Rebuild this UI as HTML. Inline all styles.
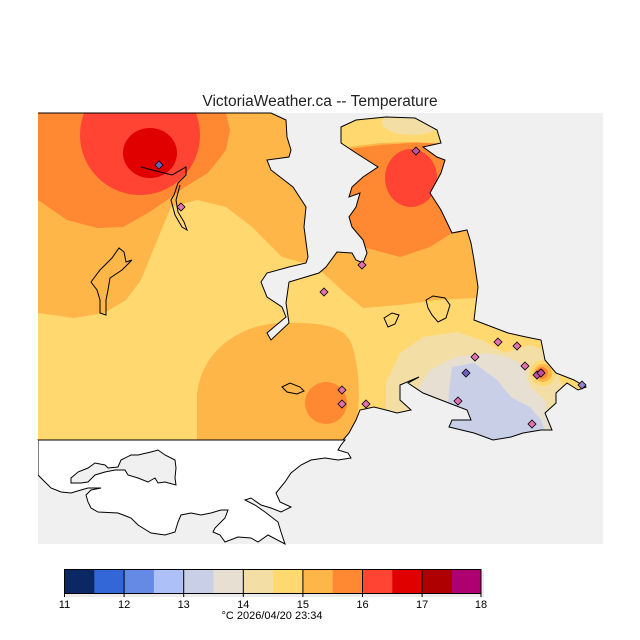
<!DOCTYPE html>
<html><head><style>
html,body{margin:0;padding:0;background:#fff;}
svg{display:block;}
text{font-family:"Liberation Sans",sans-serif;}
</style></head><body>
<svg width="640" height="640" viewBox="0 0 640 640" xmlns="http://www.w3.org/2000/svg">
<defs>
<clipPath id="land">
<path d="M38,113 L271,113 L286,120 L287,137 L291,150 L289,157 L267,160 L271,170 L293,187 L306,207 L304,227 L308,257 L306,263 L289,267 L267,273 L261,282 L267,297 L282,307 L286,317 L274,327 L267,333 L271,340 L289,323 L286,303 L289,282 L319,273 L326,267 L337,252 L352,253 L356,260 L363,263 L367,253 L363,240 L352,227 L349,217 L356,207 L360,193 L349,197 L352,187 L363,177 L378,167 L356,153 L341,143 L341,127 L356,120 L386,117 L415,118 L437,130 L441,143 L423,147 L437,157 L445,160 L441,173 L430,193 L441,210 L452,233 L467,230 L471,243 L474,260 L478,287 L474,320 L508,333 L526,337 L541,340 L545,360 L556,373 L574,380 L586,387 L578,390 L567,383 L556,393 L556,403 L545,413 L552,430 L541,430 L523,433 L511,437 L493,440 L474,433 L449,427 L452,420 L471,420 L467,410 L441,400 L423,393 L408,383 L419,377 L400,385 L400,400 L411,410 L397,413 L386,410 L374,407 L360,410 L356,420 L349,433 L343,440 L38,440 Z"/>
</clipPath>
</defs>
<text x="320" y="106" font-size="15.5" text-anchor="middle" fill="#222">VictoriaWeather.ca -- Temperature</text>
<rect x="38" y="113" width="565" height="431" fill="#f0f0f0"/>
<g clip-path="url(#land)">
<rect x="38" y="113" width="565" height="330" fill="#ffd870"/>
<path d="M38,113 L603,113 L603,298 L474,298 L437,300 L400,305 L363,308 L345,293 L323,273 L304,263 L282,257 L252,227 L226,207 L197,200 L171,207 L156,243 L141,280 L126,300 L104,313 L74,318 L38,313 Z" fill="#ffb648"/>
<path d="M38,113 L226,113 L230,130 L226,150 L208,173 L185,187 L167,200 L148,213 L123,227 L97,228 L67,220 L38,200 Z" fill="#ff8833"/>
<ellipse cx="140" cy="135" rx="60" ry="60" fill="#ff4433"/>
<ellipse cx="150" cy="153" rx="27" ry="25" fill="#e00000"/>
<path d="M340,150 L380,145 L410,143 L440,140 L460,150 L460,233 L452,233 L430,247 L400,257 L363,247 L340,240 Z" fill="#ff8833"/>
<ellipse cx="411" cy="178" rx="26" ry="29" fill="#ff4433"/>
<path d="M335,113 L450,113 L450,144 L410,142 L380,143 L340,148 Z" fill="#ffd870"/>
<ellipse cx="412" cy="122" rx="30" ry="13" fill="#f3dea6"/>
<path d="M197,440 L197,395 C200,355 235,325 280,323 C320,322 345,325 352,345 C360,370 362,410 352,440 Z" fill="#ffb648"/>
<circle cx="326" cy="403" r="21" fill="#ff8833"/>
<path d="M386,440 L386,383 L400,353 L423,337 L456,332 L482,340 L504,353 L530,345 L545,350 L562,385 L562,440 Z" fill="#f3dea6"/>
<path d="M415,440 L415,393 L430,370 L456,357 L486,353 L508,357 L526,367 L530,387 L545,400 L552,440 Z" fill="#e6dfd2"/>
<path d="M447,440 L449,390 L452,367 L474,363 L497,380 L511,397 L530,407 L541,420 L548,440 Z" fill="#c8cfe6"/>
<circle cx="543" cy="373" r="17" fill="#f3dea6"/>
<circle cx="543" cy="373" r="13" fill="#ffd870"/>
<circle cx="543" cy="373" r="9" fill="#ffb648"/>
<circle cx="542" cy="373" r="6" fill="#ff8833"/>
<circle cx="541" cy="372" r="3.5" fill="#ff4433"/>
</g>
<path d="M38,113 L271,113 L286,120 L287,137 L291,150 L289,157 L267,160 L271,170 L293,187 L306,207 L304,227 L308,257 L306,263 L289,267 L267,273 L261,282 L267,297 L282,307 L286,317 L274,327 L267,333 L271,340 L289,323 L286,303 L289,282 L319,273 L326,267 L337,252 L352,253 L356,260 L363,263 L367,253 L363,240 L352,227 L349,217 L356,207 L360,193 L349,197 L352,187 L363,177 L378,167 L356,153 L341,143 L341,127 L356,120 L386,117 L415,118 L437,130 L441,143 L423,147 L437,157 L445,160 L441,173 L430,193 L441,210 L452,233 L467,230 L471,243 L474,260 L478,287 L474,320 L508,333 L526,337 L541,340 L545,360 L556,373 L574,380 L586,387 L578,390 L567,383 L556,393 L556,403 L545,413 L552,430 L541,430 L523,433 L511,437 L493,440 L474,433 L449,427 L452,420 L471,420 L467,410 L441,400 L423,393 L408,383 L419,377 L400,385 L400,400 L411,410 L397,413 L386,410 L374,407 L360,410 L356,420 L349,433 L343,440" fill="none" stroke="#000" stroke-width="1"/>
<path d="M38,440 L345,440 L341,445 L338,450 L348,453 L351,458 L338,460 L325,458 L311,460 L301,465 L291,473 L285,482 L276,493 L280,502 L291,507 L281,512 L271,508 L261,505 L251,498 L245,500 L255,505 L265,512 L278,522 L281,532 L285,544 L268,535 L258,542 L251,538 L238,537 L225,542 L220,535 L213,532 L215,528 L225,518 L228,510 L221,510 L211,513 L201,515 L191,513 L181,515 L178,522 L175,532 L165,535 L151,533 L138,525 L131,518 L118,513 L98,512 L91,508 L88,502 L86,495 L91,490 L101,488 L88,488 L81,490 L71,493 L61,492 L51,488 L45,482 L38,475 Z" fill="#fff" stroke="#000" stroke-width="1"/>
<rect x="36" y="440" width="2" height="36" fill="#fff"/>
<path d="M71,478 L78,472 L88,468 L95,463 L105,465 L108,468 L118,467 L121,460 L131,455 L138,455 L151,452 L158,450 L165,455 L175,460 L176,468 L175,478 L176,485 L165,482 L158,483 L155,478 L148,482 L138,478 L128,475 L125,470 L115,470 L105,472 L95,475 L88,482 L81,483 L71,483 Z" fill="#f0f0f0" stroke="#000" stroke-width="1"/>
<g fill="none" stroke="#000" stroke-width="1">
<path d="M91,282 L100,270 L112,258 L119,248 L124,252 L126,262 L132,260 L122,270 L110,278 L108,290 L106,300 L106,315 L100,313 L100,300 L97,290 Z"/>
<path d="M141,167 L160,172 L172,175 L186,167 L186,175 L178,183 L174,195 L171,200 L175,215 L182,227 L187,230 L184,222 L178,212 L176,200 L180,185"/>
<path d="M282,387 L290,383 L300,387 L304,391 L297,394 L287,392 Z"/>
<path d="M426,300 L433,296 L445,298 L450,305 L446,318 L438,322 L432,315 L428,308 Z"/>
<path d="M384,318 L392,313 L399,315 L395,324 L388,327 Z"/>
</g>
<g stroke="#000" stroke-width="0.8">
<path d="M159,161l4,4l-4,4l-4,-4z" fill="#7060c0"/>
<path d="M181,203l4,4l-4,4l-4,-4z" fill="#e070b0"/>
<path d="M416,147l4,4l-4,4l-4,-4z" fill="#c050a0"/>
<path d="M362,261l4,4l-4,4l-4,-4z" fill="#e070b0"/>
<path d="M324,288l4,4l-4,4l-4,-4z" fill="#e070b0"/>
<path d="M498,338l4,4l-4,4l-4,-4z" fill="#e070b0"/>
<path d="M517,342l4,4l-4,4l-4,-4z" fill="#e070b0"/>
<path d="M475,353l4,4l-4,4l-4,-4z" fill="#e070b0"/>
<path d="M466,369l4,4l-4,4l-4,-4z" fill="#7060c0"/>
<path d="M525,362l4,4l-4,4l-4,-4z" fill="#e070b0"/>
<path d="M537,371l4,4l-4,4l-4,-4z" fill="#c050a0"/>
<path d="M541,369l4,4l-4,4l-4,-4z" fill="#c050a0"/>
<path d="M582,381l4,4l-4,4l-4,-4z" fill="#9080d0"/>
<path d="M342,386l4,4l-4,4l-4,-4z" fill="#e070b0"/>
<path d="M342,400l4,4l-4,4l-4,-4z" fill="#e070b0"/>
<path d="M366,400l4,4l-4,4l-4,-4z" fill="#e070b0"/>
<path d="M458,397l4,4l-4,4l-4,-4z" fill="#e070b0"/>
<path d="M532,420l4,4l-4,4l-4,-4z" fill="#e070b0"/>
</g>
<rect x="66" y="571" width="418" height="26" fill="#ececec"/>
<g>
<rect x="64.5" y="569.5" width="30" height="24" fill="#0a2864"/>
<rect x="94.3" y="569.5" width="30" height="24" fill="#3366d6"/>
<rect x="124.1" y="569.5" width="30" height="24" fill="#658ae6"/>
<rect x="153.9" y="569.5" width="30" height="24" fill="#adc0f8"/>
<rect x="183.7" y="569.5" width="30" height="24" fill="#c8cfe6"/>
<rect x="213.5" y="569.5" width="30" height="24" fill="#e6dfd2"/>
<rect x="243.3" y="569.5" width="30" height="24" fill="#f3dea6"/>
<rect x="273.1" y="569.5" width="30" height="24" fill="#ffd870"/>
<rect x="302.9" y="569.5" width="30" height="24" fill="#ffb648"/>
<rect x="332.7" y="569.5" width="30" height="24" fill="#ff8833"/>
<rect x="362.5" y="569.5" width="30" height="24" fill="#ff4433"/>
<rect x="392.3" y="569.5" width="30" height="24" fill="#e00000"/>
<rect x="422.1" y="569.5" width="30" height="24" fill="#ae0000"/>
<rect x="451.9" y="569.5" width="29.1" height="24" fill="#ae0070"/>
</g>
<rect x="64.5" y="569.5" width="416.5" height="24" fill="none" stroke="#000" stroke-width="1"/>
<g stroke="#000" stroke-width="1">
<line x1="124.1" y1="569" x2="124.1" y2="597"/><line x1="183.7" y1="569" x2="183.7" y2="597"/>
<line x1="243.3" y1="569" x2="243.3" y2="597"/><line x1="302.9" y1="569" x2="302.9" y2="597"/>
<line x1="362.5" y1="569" x2="362.5" y2="597"/><line x1="422.1" y1="569" x2="422.1" y2="597"/>
<line x1="64.5" y1="593" x2="64.5" y2="597"/><line x1="481" y1="593" x2="481" y2="597"/>
</g>
<g font-size="11" text-anchor="middle" fill="#000">
<text x="64.5" y="608">11</text><text x="124.1" y="608">12</text><text x="183.7" y="608">13</text>
<text x="243.3" y="608">14</text><text x="302.9" y="608">15</text><text x="362.5" y="608">16</text>
<text x="422.1" y="608">17</text><text x="481" y="608">18</text>
<text x="272" y="619">°C  2026/04/20 23:34</text>
</g>
</svg>
</body></html>
